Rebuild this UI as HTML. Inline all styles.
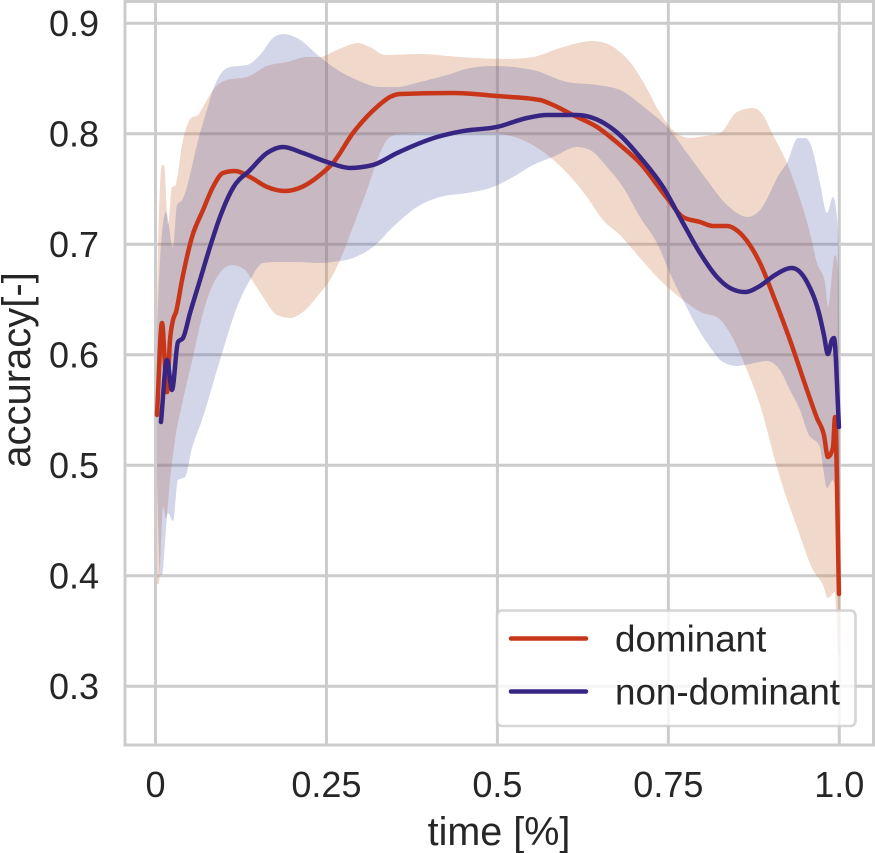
<!DOCTYPE html>
<html lang="en">
<head>
<meta charset="utf-8">
<title>accuracy over time</title>
<style>
html,body{margin:0;padding:0;background:#fff;}
svg{display:block;font-family:"Liberation Sans",Arial,sans-serif;}
text{fill:#262626;}
</style>
</head>
<body>
<svg id="chart" width="875" height="853" viewBox="0 0 875 853" xmlns="http://www.w3.org/2000/svg">
  <g id="grid"></g>
  <path id="band-dominant" fill="rgb(205,125,78)" fill-opacity="0.3"></path>
  <path id="band-nondominant" fill="rgb(79,87,167)" fill-opacity="0.25"></path>
  <path id="line-dominant" fill="none" stroke="#c8361a" stroke-width="4.5" stroke-linejoin="round" stroke-linecap="round"></path>
  <path id="line-nondominant" fill="none" stroke="#372583" stroke-width="4.5" stroke-linejoin="round" stroke-linecap="round"></path>
  <rect x="125" y="1.5" width="748.5" height="743.5" fill="none" stroke="#cccccc" stroke-width="3"></rect>
  <g id="ticks" font-size="36"></g>
  <text x="499" y="845" text-anchor="middle" font-size="39.5">time [%]</text>
  <text transform="translate(30,370) rotate(-90)" text-anchor="middle" font-size="40">accuracy[-]</text>
  <g>
    <rect x="497" y="610.5" width="358.5" height="115.5" rx="5" ry="5" fill="#ffffff" fill-opacity="0.8" stroke="#cccccc" stroke-opacity="0.8" stroke-width="2.6"></rect>
    <line x1="511" y1="638.5" x2="586" y2="638.5" stroke="#c8361a" stroke-width="4.5" stroke-linecap="round"></line>
    <text x="615" y="651.5" font-size="36.8">dominant</text>
    <line x1="511" y1="691.5" x2="586" y2="691.5" stroke="#372583" stroke-width="4.5" stroke-linecap="round"></line>
    <text x="615" y="704.5" font-size="36.8">non-dominant</text>
  </g>
</svg>
<script>
var xTicks = [0, 0.25, 0.5, 0.75, 1.0];
var xTickLabels = ["0", "0.25", "0.5", "0.75", "1.0"];
var yTicks = [0.3, 0.4, 0.5, 0.6, 0.7, 0.8, 0.9];
var yTickLabels = ["0.3", "0.4", "0.5", "0.6", "0.7", "0.8", "0.9"];

var dominantTime = [.0022,.0095,.0168,.0212,.0256,.0300,.0388,.0534,.0695,.0841,.0987,.1163,.1382,.1631,.1894,.2142,.2406,.2596,.2888,.3239,.3429,.3575,.4350,.4993,.5622,.5812,.6105,.6456,.6792,.7085,.7480,.7714,.7963,.8153,.8358,.8548,.8738,.8840,.9059,.9278,.9527,.9673,.9775,.9834,.9907,.9937,.9995];
var dominantMean = [.5455,.6288,.5663,.6134,.6315,.6387,.6677,.7066,.7310,.7519,.7645,.7663,.7609,.7519,.7482,.7519,.7627,.7736,.8007,.8243,.8333,.8360,.8369,.8342,.8306,.8261,.8170,.8062,.7899,.7736,.7419,.7247,.7202,.7166,.7166,.7102,.6948,.6831,.6496,.6134,.5682,.5428,.5274,.5075,.5157,.5437,.3835];

var nonDominantTime = [.0080,.0168,.0241,.0329,.0402,.0505,.0651,.0797,.0943,.1133,.1382,.1631,.1865,.2157,.2508,.2844,.3181,.3532,.4117,.4497,.4993,.5432,.5725,.6164,.6398,.6603,.6792,.7085,.7421,.7714,.7963,.8211,.8400,.8619,.8840,.9059,.9307,.9527,.9717,.9775,.9834,.9892,.9922,.9995];
var nonDominantMean = [.5392,.5953,.5682,.6116,.6152,.6378,.6677,.6976,.7247,.7510,.7672,.7826,.7881,.7826,.7745,.7691,.7718,.7826,.7971,.8025,.8062,.8143,.8170,.8170,.8143,.8080,.7989,.7790,.7519,.7193,.6921,.6704,.6605,.6568,.6623,.6722,.6786,.6659,.6342,.6179,.6007,.6134,.6152,.5347];

var dominantUpperTime = [.0022,.0037,.0095,.0124,.0183,.0241,.0285,.0402,.0519,.0622,.0695,.0841,.1046,.1338,.1631,.1923,.2215,.2406,.2654,.2961,.3137,.3356,.3868,.4453,.5140,.5521,.5915,.6398,.6647,.6792,.6939,.7158,.7378,.7597,.7816,.8036,.8255,.8504,.8738,.8884,.9015,.9234,.9381,.9571,.9673,.9790,.9834,.9937,.9981,1.001];
var dominantUpper = [.6496,.6967,.7718,.7718,.7175,.7519,.7528,.7944,.8143,.8170,.8243,.8397,.8487,.8514,.8614,.8650,.8695,.8695,.8759,.8822,.8786,.8713,.8722,.8695,.8677,.8695,.8777,.8840,.8804,.8740,.8650,.8442,.8188,.8016,.7962,.7980,.8007,.8197,.8234,.8170,.8007,.7736,.7492,.7102,.6831,.6659,.6433,.6903,.6767,.4505];

var dominantLowerTime = [.0022,.0051,.0110,.0154,.0212,.0285,.0402,.0548,.0695,.0899,.1119,.1309,.1411,.1572,.1777,.1967,.2157,.2406,.2552,.2698,.2888,.3093,.3283,.3429,.3575,.4350,.4935,.5432,.5769,.6018,.6310,.6544,.6792,.7085,.7378,.7714,.8007,.8211,.8400,.8619,.8840,.9088,.9176,.9381,.9615,.9761,.9834,.9937,.9951,.9980,1.001];
var dominantLower = [.3926,.3926,.4623,.4523,.4867,.5229,.5591,.5980,.6378,.6704,.6813,.6767,.6677,.6523,.6360,.6333,.6387,.6559,.6677,.6858,.7157,.7492,.7826,.7971,.7998,.8016,.8007,.7926,.7790,.7645,.7428,.7220,.7084,.6876,.6677,.6496,.6378,.6342,.6197,.5908,.5546,.4985,.4804,.4442,.4053,.3917,.3799,.3853,.3718,.3283,.3283];

var nonDominantUpperTime = [.0022,.0066,.0154,.0256,.0314,.0388,.0651,.0753,.0841,.0943,.1089,.1338,.1528,.1718,.1865,.2069,.2406,.2596,.2947,.3283,.3532,.3868,.4263,.4599,.4935,.5521,.6018,.6456,.6792,.7158,.7524,.7773,.8065,.8358,.8665,.8840,.9132,.9234,.9396,.9498,.9600,.9717,.9820,.9907,.9966,.9988,1.001];
var nonDominantUpper = [.6225,.6858,.7292,.6976,.7356,.7401,.8007,.8215,.8397,.8532,.8605,.8623,.8713,.8867,.8903,.8867,.8695,.8605,.8487,.8424,.8424,.8469,.8532,.8596,.8614,.8577,.8469,.8442,.8397,.8234,.8034,.7826,.7582,.7356,.7247,.7310,.7645,.7736,.7962,.7962,.7872,.7555,.7283,.7428,.7247,.7012,.4777];

var nonDominantLowerTime = [.0022,.0066,.0095,.0183,.0256,.0329,.0431,.0534,.0680,.0943,.1192,.1382,.1572,.1777,.2069,.2406,.2596,.2888,.3181,.3473,.3824,.4160,.4555,.4935,.5228,.5521,.5813,.6164,.6354,.6603,.6837,.7085,.7334,.7568,.7714,.7919,.8109,.8299,.8504,.8619,.8941,.9132,.9278,.9425,.9542,.9717,.9761,.9820,.9907,.9980,1.001];
var nonDominantLower = [.4867,.4007,.4007,.4568,.4496,.4867,.4894,.5157,.5410,.5953,.6433,.6677,.6831,.6840,.6840,.6831,.6840,.6876,.6976,.7157,.7338,.7428,.7464,.7519,.7609,.7718,.7790,.7881,.7853,.7700,.7519,.7247,.7012,.6677,.6496,.6252,.6071,.5935,.5899,.5908,.5944,.5862,.5682,.5500,.5292,.5166,.4985,.4795,.4867,.4686,.4686];

function xScale(v){ return 155.5 + v * 683.8; }
function yScale(v){ return 686.3 - (v - 0.3) * 1105; }

function sign(v){ return v < 0 ? -1 : 1; }
/* Monotone-in-x cubic segments so spikes never overshoot. */
function curveSegments(xs, ys){
  var n = xs.length, i, out = "";
  var h = [], s = [], t = [];
  for(i = 0; i < n - 1; i++){
    h[i] = xs[i+1] - xs[i];
    s[i] = (ys[i+1] - ys[i]) / h[i];
  }
  t[0] = s[0];
  t[n-1] = s[n-2];
  for(i = 1; i < n - 1; i++){
    var p = (s[i-1]*h[i] + s[i]*h[i-1]) / (h[i-1] + h[i]);
    t[i] = (sign(s[i-1]) + sign(s[i])) * Math.min(Math.abs(s[i-1]), Math.abs(s[i]), 0.5*Math.abs(p));
  }
  for(i = 0; i < n - 1; i++){
    var d = h[i] / 3;
    out += "C" + (xs[i]+d).toFixed(2) + " " + (ys[i]+d*t[i]).toFixed(2) + " " +
           (xs[i+1]-d).toFixed(2) + " " + (ys[i+1]-d*t[i+1]).toFixed(2) + " " +
           xs[i+1].toFixed(2) + " " + ys[i+1].toFixed(2);
  }
  return out;
}
function linePath(time, vals){
  var xs = time.map(xScale), ys = vals.map(yScale);
  return "M" + xs[0].toFixed(2) + " " + ys[0].toFixed(2) + curveSegments(xs, ys);
}
function bandPath(upT, up, loT, lo){
  var ux = upT.map(xScale), uy = up.map(yScale);
  var lx = loT.map(xScale).reverse(), ly = lo.map(yScale).reverse();
  var d = "M" + ux[0].toFixed(2) + " " + uy[0].toFixed(2) + curveSegments(ux, uy);
  d += "L" + lx[0].toFixed(2) + " " + ly[0].toFixed(2) + curveSegments(lx, ly);
  return d + "Z";
}

var NS = "http://www.w3.org/2000/svg";
var grid = document.getElementById("grid");
var ticks = document.getElementById("ticks");

xTicks.forEach(function(v, i){
  var g = document.createElementNS(NS, "line");
  g.setAttribute("x1", xScale(v));
  g.setAttribute("x2", xScale(v));
  g.setAttribute("y1", 2);
  g.setAttribute("y2", 745);
  g.setAttribute("stroke", "#cccccc");
  g.setAttribute("stroke-width", 3);
  
  
  grid.appendChild(g);
  var t = document.createElementNS(NS, "text");
  t.setAttribute("x", xScale(v));
  t.setAttribute("y", 797);
  t.setAttribute("text-anchor", "middle");
  t.textContent = xTickLabels[i];
  
  
  ticks.appendChild(t);
});
yTicks.forEach(function(v, i){
  var g = document.createElementNS(NS, "line");
  g.setAttribute("x1", 125);
  g.setAttribute("x2", 873);
  g.setAttribute("y1", yScale(v));
  g.setAttribute("y2", yScale(v));
  g.setAttribute("stroke", "#cccccc");
  g.setAttribute("stroke-width", 3);
  
  
  grid.appendChild(g);
  var t = document.createElementNS(NS, "text");
  t.setAttribute("x", 99);
  t.setAttribute("y", yScale(v) + 12.5);
  t.setAttribute("text-anchor", "end");
  t.textContent = yTickLabels[i];
  
  
  ticks.appendChild(t);
});

document.getElementById("band-dominant").setAttribute("d", bandPath(dominantUpperTime, dominantUpper, dominantLowerTime, dominantLower));
document.getElementById("band-nondominant").setAttribute("d", bandPath(nonDominantUpperTime, nonDominantUpper, nonDominantLowerTime, nonDominantLower));
document.getElementById("line-dominant").setAttribute("d", linePath(dominantTime, dominantMean));
document.getElementById("line-nondominant").setAttribute("d", linePath(nonDominantTime, nonDominantMean));
</script>
</body>
</html>
